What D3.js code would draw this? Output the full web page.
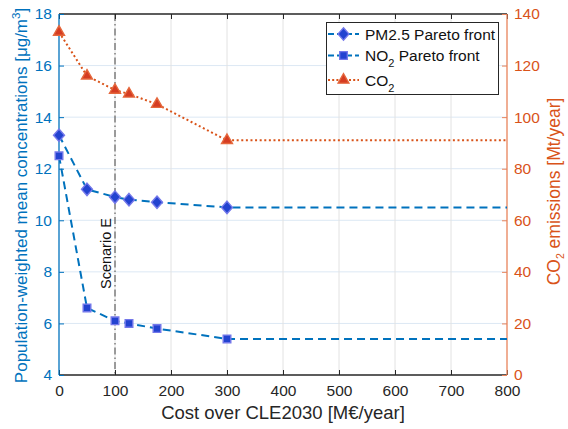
<!DOCTYPE html>
<html>
<head>
<meta charset="utf-8">
<script src="https://cdn.jsdelivr.net/npm/d3@7"></script>
<style>
  body { margin: 0; background: #fff; }
  svg { display: block; font-family: "Liberation Sans", Arial, Helvetica, sans-serif; }
</style>
</head>
<body>
<svg id="chart" width="568" height="429"></svg>
<script>
// values
var costs = [0, 50, 100, 125, 175, 300];
var pm25 = [13.3, 11.2, 10.9, 10.8, 10.7, 10.5];
var no2 = [12.5, 6.6, 6.1, 6.0, 5.8, 5.4];
var co2 = [133, 116, 110.5, 109, 105, 91];
var xTicks = [0, 100, 200, 300, 400, 500, 600, 700, 800];
var leftTicks = [4, 6, 8, 10, 12, 14, 16, 18];
var rightTicks = [0, 20, 40, 60, 80, 100, 120, 140];
var scenarioCost = 100;

var BLUE = "#0072BD", ORANGE = "#D95319", DARK = "#262626";

var L = 59, R = 507, T = 14, B = 375;
var x = d3.scaleLinear().domain([0, 800]).range([L, R]);
var yL = d3.scaleLinear().domain([4, 18]).range([B, T]);
var yR = d3.scaleLinear().domain([0, 140]).range([B, T]);

var svg = d3.select("#chart");

// grid
svg.append("g").selectAll("line").data(leftTicks.slice(1, -1)).join("line")
  .attr("x1", L).attr("x2", R).attr("y1", d => yL(d)).attr("y2", d => yL(d))
  .attr("stroke", "#dce8f4").attr("stroke-width", 1);
svg.append("g").selectAll("line").data(xTicks.slice(1, -1)).join("line")
  .attr("x1", d => x(d)).attr("x2", d => x(d)).attr("y1", T).attr("y2", B)
  .attr("stroke", "#e2e2e2").attr("stroke-width", 1);

// scenario E marker line
svg.append("line")
  .attr("x1", x(scenarioCost)).attr("x2", x(scenarioCost)).attr("y1", T).attr("y2", B)
  .attr("stroke", "#444").attr("stroke-width", 1).attr("stroke-dasharray", "7,3,1.5,3");
svg.append("text")
  .attr("transform", "translate(" + (x(scenarioCost) - 4) + "," + 289 + ") rotate(-90)")
  .attr("font-size", 14.5).attr("fill", "#111").text("Scenario E");

// axes
var xAxis = svg.append("g").attr("transform", "translate(0," + B + ")")
  .call(d3.axisBottom(x).tickValues(xTicks).tickSize(-5).tickPadding(10));
var xTop = svg.append("g").attr("transform", "translate(0," + T + ")")
  .call(d3.axisTop(x).tickValues(xTicks).tickSize(-5).tickFormat(""));
var yAxisL = svg.append("g").attr("transform", "translate(" + L + ",0)")
  .call(d3.axisLeft(yL).tickValues(leftTicks).tickSize(-5).tickPadding(7));
var yAxisR = svg.append("g").attr("transform", "translate(" + R + ",0)")
  .call(d3.axisRight(yR).tickValues(rightTicks).tickSize(-5).tickPadding(7));

[xAxis, xTop].forEach(function(g) {
  g.selectAll("path, line").attr("stroke", DARK);
  g.selectAll("text").attr("fill", DARK).attr("font-size", 15.5);
});
yAxisL.selectAll("path, line").attr("stroke", BLUE);
yAxisL.selectAll("text").attr("fill", BLUE).attr("font-size", 15.5);
yAxisR.selectAll("path, line").attr("stroke", "#e8835a");
yAxisR.selectAll("text").attr("fill", ORANGE).attr("font-size", 15.5);
[xAxis, xTop, yAxisL, yAxisR].forEach(g => g.select(".domain").attr("stroke-width", 1.3));
xTop.select(".domain").attr("d", "M" + L + ",0H" + R);
xAxis.select(".domain").attr("d", "M" + L + ",0H" + R);
yAxisL.select(".domain").attr("d", "M0," + T + "V" + B);
yAxisR.select(".domain").attr("d", "M0," + T + "V" + B);

// axis titles
svg.append("text").attr("x", (L + R) / 2).attr("y", 419).attr("text-anchor", "middle")
  .attr("font-size", 18.5).attr("fill", DARK).text("Cost over CLE2030 [M€/year]");

var lt = svg.append("text")
  .attr("transform", "translate(27," + ((T + B) / 2 + 1) + ") rotate(-90)")
  .attr("text-anchor", "middle").attr("font-size", 17).attr("fill", BLUE);
lt.append("tspan").text("Population-weighted mean concentrations [μg/m");
lt.append("tspan").attr("font-size", 11.5).attr("dy", -7).text("3");
lt.append("tspan").attr("dy", 7).text("]");

var rt = svg.append("text")
  .attr("transform", "translate(560," + ((T + B) / 2 - 3) + ") rotate(-90)")
  .attr("text-anchor", "middle").attr("font-size", 17.5).attr("fill", ORANGE);
rt.append("tspan").text("CO");
rt.append("tspan").attr("font-size", 10.5).attr("dy", 3.5).text("2");
rt.append("tspan").attr("dy", -3.5).text(" emissions [Mt/year]");

// series
function plateau(vals) {
  var pts = costs.map((c, i) => [c, vals[i]]);
  pts.push([800, vals[vals.length - 1]]);
  return pts;
}

var lineL = d3.line().x(d => x(d[0])).y(d => yL(d[1]));
var lineR = d3.line().x(d => x(d[0])).y(d => yR(d[1]));

svg.append("path").datum(plateau(co2)).attr("d", lineR)
  .attr("fill", "none").attr("stroke", ORANGE).attr("stroke-width", 2)
  .attr("stroke-dasharray", "2,2.6");
svg.append("path").datum(plateau(pm25)).attr("d", lineL)
  .attr("fill", "none").attr("stroke", BLUE).attr("stroke-width", 2)
  .attr("stroke-dasharray", "8,5");
svg.append("path").datum(plateau(no2)).attr("d", lineL)
  .attr("fill", "none").attr("stroke", BLUE).attr("stroke-width", 2)
  .attr("stroke-dasharray", "8,5");

// matlab-like diamond, a bit wider than d3's
var wideDiamond = {
  draw: function(ctx, size) {
    var h = Math.sqrt(size) * 0.78, w = h * 0.88;
    ctx.moveTo(0, -h); ctx.lineTo(w, 0); ctx.lineTo(0, h); ctx.lineTo(-w, 0); ctx.closePath();
  }
};
var diamond = d3.symbol().type(wideDiamond).size(64);
var square = d3.symbol().type(d3.symbolSquare).size(58);
var triangle = d3.symbol().type(d3.symbolTriangle).size(52);

function markers(vals, scale, sym, fill, stroke) {
  svg.append("g").selectAll("path").data(vals).join("path")
    .attr("transform", (d, i) => "translate(" + x(costs[i]) + "," + scale(d) + ")")
    .attr("d", sym).attr("fill", fill).attr("stroke", stroke).attr("stroke-width", 1.4);
}
markers(pm25, yL, diamond, "#2343d0", "#7478ea");
markers(no2, yL, square, "#2343d0", "#7478ea");
markers(co2, yR, triangle, "#d53c22", "#e5673c");

// legend
var lg = svg.append("g");
lg.append("rect").attr("x", 326.5).attr("y", 22.5).attr("width", 172).attr("height", 72)
  .attr("fill", "#fff").attr("stroke", DARK).attr("stroke-width", 1);
var legendRows = [
  { name: "PM2.5 Pareto front", sub: "", rest: "", y: 34, color: BLUE, dash: "6,3", sym: diamond, fill: "#2343d0", stroke: "#7478ea" },
  { name: "NO", sub: "2", rest: " Pareto front", y: 55.5, color: BLUE, dash: "6,3", sym: square, fill: "#2343d0", stroke: "#7478ea" },
  { name: "CO", sub: "2", rest: "", y: 80, color: ORANGE, dash: "2,2.2", sym: triangle, fill: "#d53c22", stroke: "#e5673c" }
];
legendRows.forEach(function(r) {
  lg.append("line").attr("x1", 328).attr("x2", 359).attr("y1", r.y).attr("y2", r.y)
    .attr("stroke", r.color).attr("stroke-width", 2).attr("stroke-dasharray", r.dash);
  lg.append("path").attr("transform", "translate(343.5," + r.y + ")")
    .attr("d", r.sym).attr("fill", r.fill).attr("stroke", r.stroke).attr("stroke-width", 1.3);
  var t = lg.append("text").attr("x", 365).attr("y", r.y + 5.5)
    .attr("font-size", 15.5).attr("fill", "#111");
  t.append("tspan").text(r.name);
  if (r.sub) {
    t.append("tspan").attr("font-size", 11).attr("dy", 6).text(r.sub);
    if (r.rest) t.append("tspan").attr("dy", -6).text(r.rest);
  }
});
</script>
</body>
</html>
